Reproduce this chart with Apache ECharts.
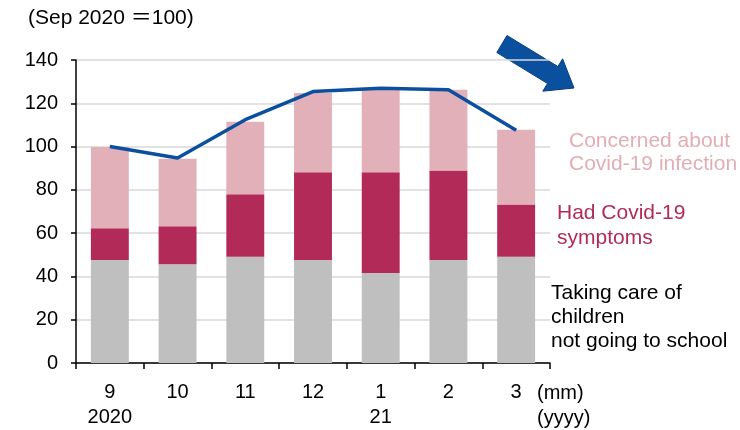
<!DOCTYPE html>
<html>
<head>
<meta charset="utf-8">
<script src="https://cdn.jsdelivr.net/npm/echarts@6/dist/echarts.min.js"></script>
<style>
  html, body { margin: 0; padding: 0; background: #fff; }
  #chart { width: 740px; height: 430px; }
</style>
</head>
<body>
<div id="chart"></div>
<script>
// months (first line) and years (second line)
const months = ['9', '10', '11', '12', '1', '2', '3'];
const years = ['2020', '', '', '', '21', '', ''];

// stacked components (Sep 2020 = 100)
const childcare = [47.6, 45.6, 49.1, 47.6, 41.6, 47.6, 49.1];
const symptoms = [14.7, 17.6, 28.9, 40.5, 46.5, 41.3, 24.1];
const concerned = [37.5, 31.2, 33.5, 36.7, 38.1, 37.3, 34.6];
const total = [100, 94.7, 112.4, 125.4, 127.0, 126.3, 107.5];

const yTicks = [0, 20, 40, 60, 80, 100, 120, 140];

const chart = echarts.init(document.getElementById('chart'));
const font = 'Liberation Sans, Arial, sans-serif';

const option = {
  animation: false,
  textStyle: { fontFamily: font },
  grid: { left: 76, right: 190, top: 60, bottom: 66 },
  xAxis: {
    type: 'category',
    data: months.map((m, i) => years[i] ? m + '\n' + years[i] : m),
    axisLine: { show: true, lineStyle: { color: '#000', width: 1.5 } },
    axisTick: { show: true, length: 6, lineStyle: { color: '#000', width: 1.5 } },
    axisLabel: {
      color: '#000', fontSize: 20, fontFamily: font,
      margin: 17, lineHeight: 25, verticalAlign: 'top'
    }
  },
  yAxis: {
    type: 'value',
    min: yTicks[0],
    max: yTicks[yTicks.length - 1],
    interval: 20,
    axisLine: { show: true, lineStyle: { color: '#000', width: 1.5 } },
    axisTick: { show: true, length: 5, lineStyle: { color: '#000', width: 1.5 } },
    axisLabel: { color: '#000', fontSize: 20, fontFamily: font, margin: 18 },
    splitLine: { lineStyle: { color: '#d9d9d9', width: 1.5 } }
  },
  series: [
    {
      name: 'Taking care of children not going to school',
      type: 'bar', stack: 'a', data: childcare, barWidth: '56%',
      itemStyle: { color: '#bfbfbf' }
    },
    {
      name: 'Had Covid-19 symptoms',
      type: 'bar', stack: 'a', data: symptoms,
      itemStyle: { color: '#b22b58' }
    },
    {
      name: 'Concerned about Covid-19 infection',
      type: 'bar', stack: 'a', data: concerned,
      itemStyle: { color: '#e1b0b8' }
    },
    {
      name: 'Total',
      type: 'line', data: total, showSymbol: false, symbol: 'none',
      lineStyle: { color: '#0b4f9f', width: 3.5 }, z: 5
    }
  ],
  graphic: [
    { type: 'text', left: 28, top: 8,
      style: { text: '(Sep 2020 ＝100)', fontSize: 21, fontFamily: 'Liberation Sans, "Noto Sans CJK JP", sans-serif', fill: '#000' } },
    { type: 'text', left: 537, top: 381,
      style: { text: '(mm)\n(yyyy)', fontSize: 20, lineHeight: 25, fontFamily: font, fill: '#000' } },
    { type: 'text', left: 569, top: 130,
      style: { text: 'Concerned about\nCovid-19 infection', fontSize: 21, lineHeight: 23, fontFamily: font, fill: '#e3adb6' } },
    { type: 'text', left: 557, top: 201,
      style: { text: 'Had Covid-19\nsymptoms', fontSize: 21, lineHeight: 25, fontFamily: font, fill: '#b22b58' } },
    { type: 'text', left: 551, top: 281,
      style: { text: 'Taking care of\nchildren\nnot going to school', fontSize: 21, lineHeight: 24, fontFamily: font, fill: '#000' } },
    { type: 'polygon',
      shape: { points: [[507, 35.5], [496.8, 52.5], [547.5, 83.5], [542.8, 91.2], [574, 88], [562.6, 58.8], [557.9, 66.5]] },
      style: { fill: '#0b4f9f', stroke: '#083f80', lineWidth: 1 } }
  ]
};

chart.setOption(option);
</script>
</body>
</html>
